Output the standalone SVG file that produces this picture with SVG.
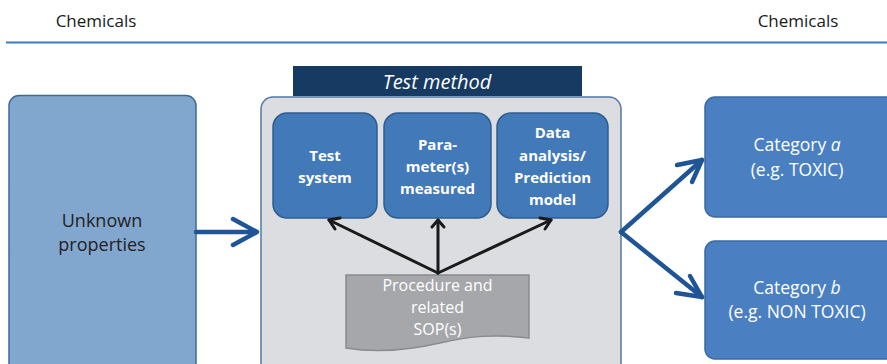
<svg xmlns="http://www.w3.org/2000/svg" width="887" height="364" viewBox="0 0 887 364">
  <defs>
    <style>
      text { font-family: "Open Sans", "Liberation Sans", sans-serif; text-anchor: middle; }
      .head { font-size: 17px; fill: #1a1a1a; }
      .unk { font-size: 18px; fill: #222; }
      .inner rect { fill: #4279b8; stroke: #2e5d91; stroke-width: 1.5; }
      .inner text { font-size: 15px; font-weight: bold; fill: #fff; }
      .cat rect { fill: #4a80c2; stroke: #3a6aa0; stroke-width: 1.5; }
      .cat text { font-size: 17.5px; fill: #fff; }
      .blue { fill: none; stroke: #1f5596; stroke-width: 4.5; stroke-linecap: round; stroke-linejoin: round; }
      .black { fill: none; stroke: #1a1a1a; stroke-width: 3; stroke-linecap: round; stroke-linejoin: round; }
    </style>
  </defs>

  <!-- page header -->
  <g id="header">
    <text class="head" x="96" y="27">Chemicals</text>
    <text class="head" x="798" y="27">Chemicals</text>
    <line x1="6" y1="42.5" x2="887" y2="42.5" stroke="#3a7cc0" stroke-width="2"/>
  </g>

  <!-- input node -->
  <g id="unknown">
    <rect x="9" y="95.5" width="187" height="290" rx="10" fill="#82a7cf" stroke="#3e6a9a" stroke-width="1.5"/>
    <text class="unk" x="102" y="227">Unknown</text>
    <text class="unk" x="102" y="251">properties</text>
  </g>

  <!-- test method container -->
  <g id="test-method">
    <rect x="261" y="97" width="360" height="290" rx="12" fill="#dcdde0" stroke="#4f78a5" stroke-width="1.5"/>
    <rect x="293" y="66" width="289" height="30" fill="#173a63"/>
    <text x="437" y="89" font-size="20" font-style="italic" fill="#fff">Test method</text>
  </g>

  <g id="test-system" class="inner">
    <rect x="273" y="113" width="104" height="105" rx="14"/>
    <text x="325" y="161">Test</text>
    <text x="325" y="183">system</text>
  </g>

  <g id="parameters" class="inner">
    <rect x="384" y="113" width="107" height="105" rx="14"/>
    <text x="437.5" y="150">Para-</text>
    <text x="437.5" y="172">meter(s)</text>
    <text x="437.5" y="194">measured</text>
  </g>

  <g id="data-analysis" class="inner">
    <rect x="497" y="113" width="111" height="105" rx="14"/>
    <text x="552.5" y="138">Data</text>
    <text x="552.5" y="161">analysis/</text>
    <text x="552.5" y="183">Prediction</text>
    <text x="552.5" y="205">model</text>
  </g>

  <g id="procedure">
    <path d="M346,275 H529 V338 C495,334 470,336 440,343 C405,351 375,353 346,348 Z" fill="#a6a7aa" stroke="#8a8b8e" stroke-width="1.5"/>
    <text x="437.5" y="291" font-size="16" fill="#fff">Procedure and</text>
    <text x="437.5" y="313" font-size="16" fill="#fff">related</text>
    <text x="437.5" y="335" font-size="16" fill="#fff">SOP(s)</text>
  </g>

  <!-- output nodes -->
  <g id="category-a" class="cat">
    <rect x="705" y="97" width="200" height="120" rx="10"/>
    <text x="797" y="151">Category <tspan font-style="italic">a</tspan></text>
    <text x="797" y="176">(e.g. TOXIC)</text>
  </g>

  <g id="category-b" class="cat">
    <rect x="705" y="241" width="200" height="118" rx="10"/>
    <text x="797" y="294">Category <tspan font-style="italic">b</tspan></text>
    <text x="797" y="318">(e.g. NON TOXIC)</text>
  </g>

  <!-- connectors -->
  <g id="connectors">
    <line class="blue" x1="196" y1="232" x2="256" y2="232"/>
    <polyline class="blue" points="233,219 257,232 233,245"/>

    <line class="blue" x1="621" y1="232" x2="702" y2="160"/>
    <polyline class="blue" points="677,165 702,160 692,182"/>
    <line class="blue" x1="621" y1="232" x2="702" y2="297"/>
    <polyline class="blue" points="690,276 702,297 676,293"/>

    <line class="black" x1="438" y1="273" x2="329" y2="220"/>
    <polyline class="black" points="335,229 329,220 340,218"/>
    <line class="black" x1="438" y1="273" x2="438" y2="220"/>
    <polyline class="black" points="432,227 438,220 444,227"/>
    <line class="black" x1="438" y1="273" x2="551" y2="220"/>
    <polyline class="black" points="540,218 551,220 545,229"/>
  </g>
</svg>
